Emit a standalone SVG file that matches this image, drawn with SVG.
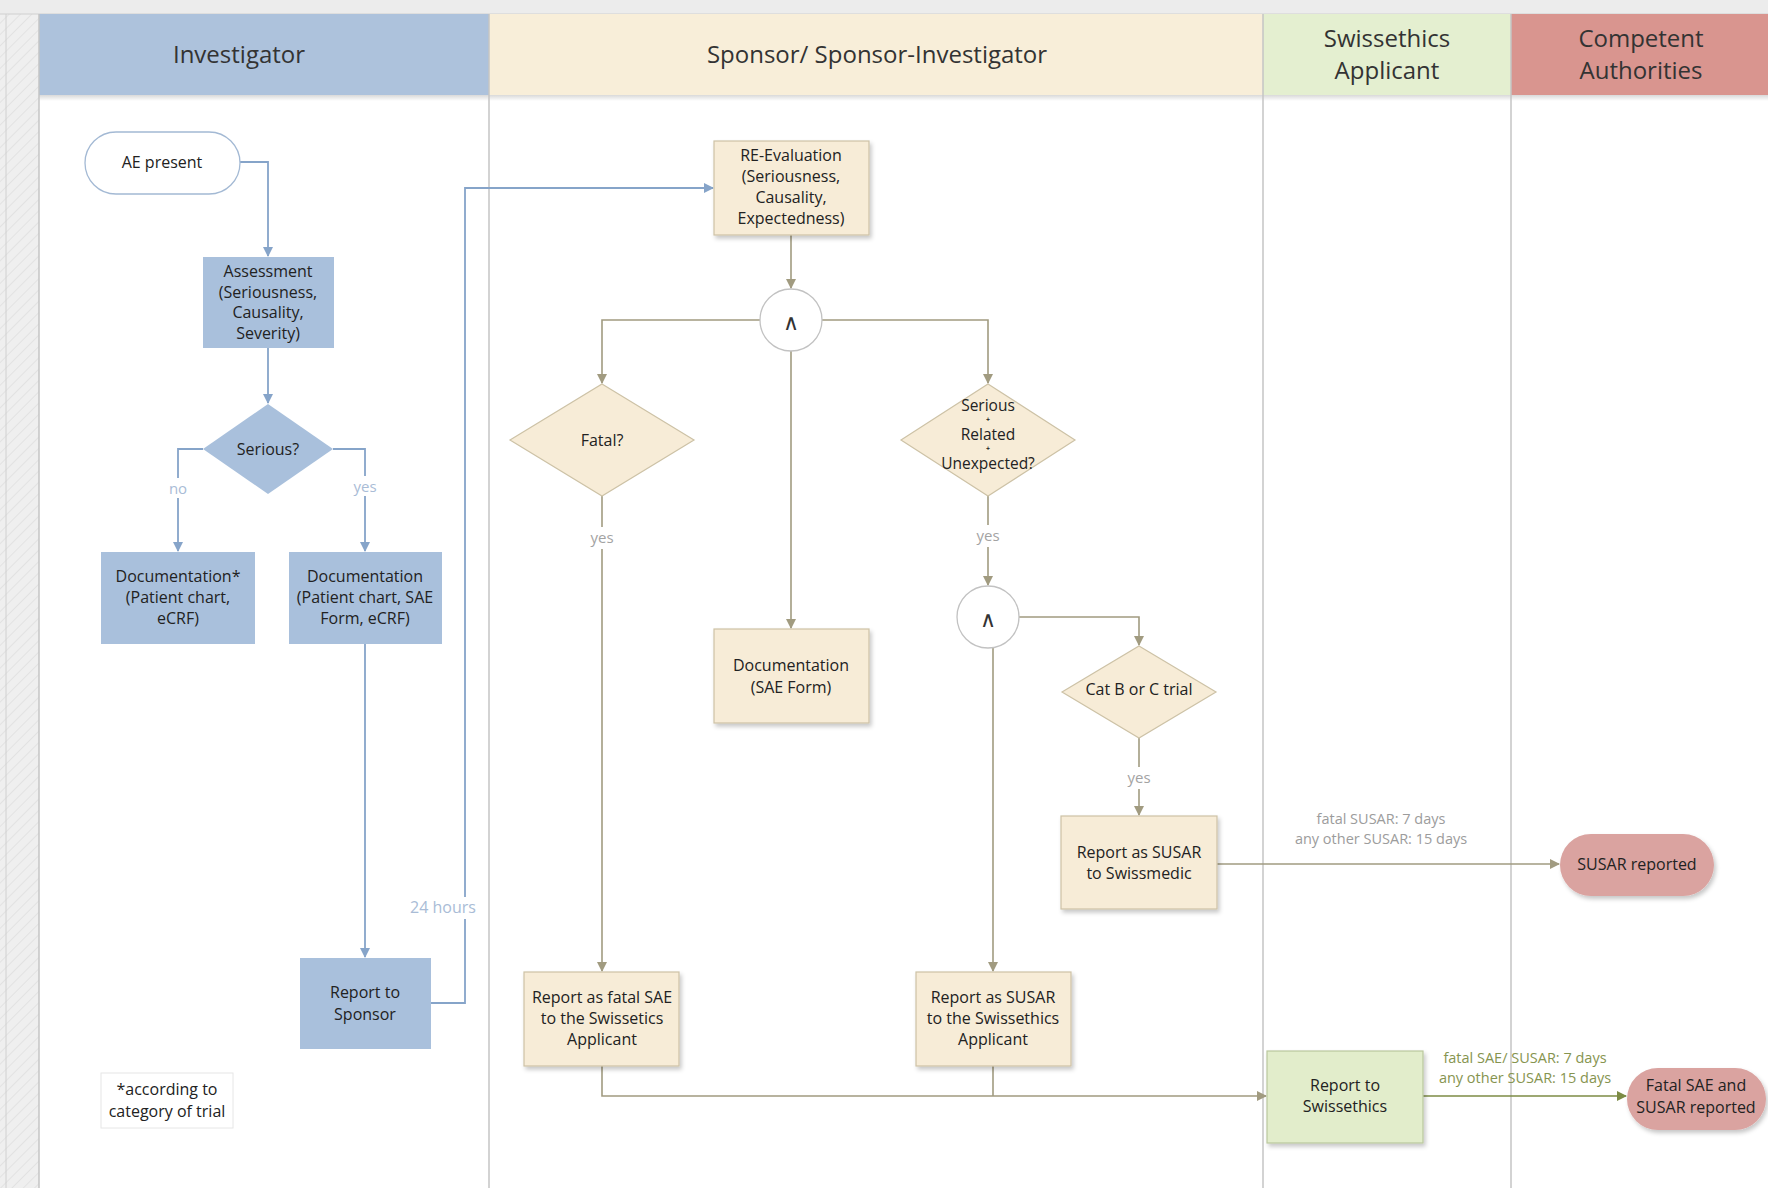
<svg xmlns="http://www.w3.org/2000/svg" width="1768" height="1188" viewBox="0 0 1768 1188">
<defs>
<style>
text{font-family:"Open Sans","Noto Sans","Liberation Sans",sans-serif;fill:#222;text-anchor:middle;dominant-baseline:central}
.hd{font-size:24px;fill:#333}
.t{font-size:16px}
.and{font-size:22px;fill:#333}
.lbl{font-size:15px;fill:#a3a3a3}
.lblb{font-size:15px;fill:#a9bcd6}
.tm{font-size:14.5px;fill:#9c9c9c}
.tmg{font-size:14.5px;fill:#86944f}
.blue{fill:#a9c0dc}
.cream{fill:#f7ecd7;stroke:#cdc2a6;stroke-width:1.2}
.green{fill:#e2edcb;stroke:#bac79d;stroke-width:1.2}
.pill{fill:#daa3a0}
.cb{fill:none;stroke:#86a4c9;stroke-width:1.8}
.co{fill:none;stroke:#a19b80;stroke-width:1.6}
.cg{fill:none;stroke:#7c8b45;stroke-width:1.6}
.lane{stroke:#c4c4c4;stroke-width:1.5;fill:none}
.plus{font-size:7px;font-weight:bold;fill:#222}
</style>
<marker id="ab" markerWidth="10" markerHeight="10" refX="9" refY="5" orient="auto" markerUnits="userSpaceOnUse"><path d="M0,0 L10,5 L0,10 z" fill="#86a4c9"/></marker>
<marker id="ao" markerWidth="10" markerHeight="10" refX="9" refY="5" orient="auto" markerUnits="userSpaceOnUse"><path d="M0,0 L10,5 L0,10 z" fill="#a19b80"/></marker>
<marker id="ag" markerWidth="10" markerHeight="10" refX="9" refY="5" orient="auto" markerUnits="userSpaceOnUse"><path d="M0,0 L10,5 L0,10 z" fill="#7c8b45"/></marker>
<filter id="sh" x="-20%" y="-20%" width="140%" height="150%"><feDropShadow dx="2" dy="3" stdDeviation="2" flood-color="#000" flood-opacity="0.22"/></filter>
<linearGradient id="hs" x1="0" y1="0" x2="0" y2="1"><stop offset="0" stop-color="#000" stop-opacity="0.15"/><stop offset="1" stop-color="#000" stop-opacity="0"/></linearGradient>
<pattern id="hatch" width="8" height="8" patternUnits="userSpaceOnUse" patternTransform="rotate(45)"><rect width="8" height="8" fill="#efefef"/><line x1="0" y1="0" x2="0" y2="8" stroke="#e2e2e2" stroke-width="2"/></pattern>
</defs>

<!-- background -->
<rect x="0" y="0" width="1768" height="1188" fill="#ffffff"/>
<rect x="0" y="0" width="1768" height="14" fill="#ececec"/>
<rect x="0" y="14" width="39" height="1174" fill="url(#hatch)"/>
<line x1="6" y1="14" x2="6" y2="1188" stroke="#d0d0d0" stroke-width="1"/>
<line x1="0" y1="14" x2="1768" y2="14" stroke="#d0d0d0" stroke-width="1"/>

<!-- lane headers -->
<g id="lanes">
<rect x="39" y="14" width="450" height="81" fill="#adc2dc"/>
<rect x="489" y="14" width="774" height="81" fill="#f8eed9"/>
<rect x="1263" y="14" width="248" height="81" fill="#e4efd0"/>
<rect x="1511" y="14" width="257" height="81" fill="#d9958f"/>
<rect x="39" y="95" width="1729" height="6" fill="url(#hs)"/>
<line class="lane" x1="39" y1="14" x2="39" y2="1188"/>
<line class="lane" x1="489" y1="14" x2="489" y2="1188"/>
<line class="lane" x1="1263" y1="14" x2="1263" y2="1188"/>
<line class="lane" x1="1511" y1="14" x2="1511" y2="1188"/>
<text class="hd" x="239" y="53">Investigator</text>
<text class="hd" x="877" y="53">Sponsor/ Sponsor-Investigator</text>
<text class="hd" x="1387" y="37">Swissethics</text>
<text class="hd" x="1387" y="69">Applicant</text>
<text class="hd" x="1641" y="37">Competent</text>
<text class="hd" x="1641" y="69">Authorities</text>
</g>

<!-- connectors -->
<g id="connectors">
<path class="cb" d="M240,162 H268 V256" marker-end="url(#ab)"/>
<path class="cb" d="M268,348 V403" marker-end="url(#ab)"/>
<path class="cb" d="M203,449 H178 V551" marker-end="url(#ab)"/>
<path class="cb" d="M333,449 H365 V551" marker-end="url(#ab)"/>
<path class="cb" d="M365,644 V957" marker-end="url(#ab)"/>
<path class="cb" d="M431,1003 H465 V188 H713" marker-end="url(#ab)"/>
<rect x="176" y="478" width="24" height="20" fill="#fff"/>
<text class="lblb" x="178" y="488">no</text>
<rect x="351" y="476" width="28" height="20" fill="#fff"/>
<text class="lblb" x="365" y="486">yes</text>
<rect x="409" y="897" width="70" height="22" fill="#fff"/>
<text class="lblb" x="443" y="907" style="font-size:16px">24 hours</text>

<path class="co" d="M791,235 V288" marker-end="url(#ao)"/>
<path class="co" d="M760,320 H602 V383" marker-end="url(#ao)"/>
<path class="co" d="M822,320 H988 V383" marker-end="url(#ao)"/>
<path class="co" d="M791,351 V628" marker-end="url(#ao)"/>
<path class="co" d="M602,496 V971" marker-end="url(#ao)"/>
<path class="co" d="M988,496 V585" marker-end="url(#ao)"/>
<path class="co" d="M1019,617 H1139 V645" marker-end="url(#ao)"/>
<path class="co" d="M993,648 V971" marker-end="url(#ao)"/>
<path class="co" d="M1139,738 V815" marker-end="url(#ao)"/>
<path class="co" d="M1217,864 H1559" marker-end="url(#ao)"/>
<path class="co" d="M602,1066 V1096 H1266" marker-end="url(#ao)"/>
<path class="co" d="M993,1066 V1096"/>
<path class="cg" d="M1423,1096 H1626" marker-end="url(#ag)"/>
<rect x="587" y="527" width="30" height="22" fill="#fff"/>
<text class="lbl" x="602" y="537">yes</text>
<rect x="973" y="525" width="30" height="22" fill="#fff"/>
<text class="lbl" x="988" y="535">yes</text>
<rect x="1124" y="767" width="30" height="22" fill="#fff"/>
<text class="lbl" x="1139" y="777">yes</text>
<text class="tm" x="1381" y="818">fatal SUSAR: 7 days</text>
<text class="tm" x="1381" y="838">any other SUSAR: 15 days</text>
<text class="tmg" x="1525" y="1057">fatal SAE/ SUSAR: 7 days</text>
<text class="tmg" x="1525" y="1077">any other SUSAR: 15 days</text>
</g>

<!-- Investigator nodes -->
<g id="ae-present">
<rect x="85" y="132" width="155" height="62" rx="31" fill="#fff" stroke="#a3b9d4" stroke-width="1.3"/>
<text class="t" x="162" y="162">AE present</text>
</g>
<g id="assessment">
<rect class="blue" x="203" y="257" width="131" height="91"/>
<text class="t" x="268" y="271">Assessment</text>
<text class="t" x="268" y="292">(Seriousness,</text>
<text class="t" x="268" y="312">Causality,</text>
<text class="t" x="268" y="333">Severity)</text>
</g>
<g id="serious">
<polygon class="blue" points="268,404 333,449 268,494 203,449"/>
<text class="t" x="268" y="449">Serious?</text>
</g>
<g id="doc-nonserious">
<rect class="blue" x="101" y="552" width="154" height="92"/>
<text class="t" x="178" y="576">Documentation*</text>
<text class="t" x="178" y="597">(Patient chart,</text>
<text class="t" x="178" y="618">eCRF)</text>
</g>
<g id="doc-serious">
<rect class="blue" x="289" y="552" width="153" height="92"/>
<text class="t" x="365" y="576">Documentation</text>
<text class="t" x="365" y="597">(Patient chart, SAE</text>
<text class="t" x="365" y="618">Form, eCRF)</text>
</g>
<g id="report-sponsor">
<rect class="blue" x="300" y="958" width="131" height="91"/>
<text class="t" x="365" y="992">Report to</text>
<text class="t" x="365" y="1014">Sponsor</text>
</g>
<g id="footnote">
<rect x="101" y="1073" width="132" height="55" fill="#fff" stroke="#e6e6e6" stroke-width="1"/>
<text class="t" x="167" y="1089">*according to</text>
<text class="t" x="167" y="1111">category of trial</text>
</g>

<!-- Sponsor nodes -->
<g id="re-evaluation">
<rect class="cream" x="714" y="141" width="155" height="94" filter="url(#sh)"/>
<text class="t" x="791" y="155">RE-Evaluation</text>
<text class="t" x="791" y="176">(Seriousness,</text>
<text class="t" x="791" y="197">Causality,</text>
<text class="t" x="791" y="218">Expectedness)</text>
</g>
<g id="and1">
<circle cx="791" cy="320" r="31" fill="#fff" stroke="#c2c2c2" stroke-width="1.3"/>
<text class="and" x="791" y="321">∧</text>
</g>
<g id="fatal">
<polygon class="cream" points="602,384 694,440 602,496 510,440"/>
<text class="t" x="602" y="440">Fatal?</text>
</g>
<g id="serious-related-unexpected">
<polygon class="cream" points="988,384 1075,440 988,496 901,440"/>
<text x="988" y="405" style="font-size:15.5px">Serious</text>
<text class="plus" x="988" y="419.5">+</text>
<text x="988" y="434" style="font-size:15.5px">Related</text>
<text class="plus" x="988" y="448.5">+</text>
<text x="988" y="463" style="font-size:15.5px">Unexpected?</text>
</g>
<g id="doc-sae-form">
<rect class="cream" x="714" y="629" width="155" height="94" filter="url(#sh)"/>
<text class="t" x="791" y="665">Documentation</text>
<text class="t" x="791" y="687">(SAE Form)</text>
</g>
<g id="and2">
<circle cx="988" cy="617" r="31" fill="#fff" stroke="#c2c2c2" stroke-width="1.3"/>
<text class="and" x="988" y="618">∧</text>
</g>
<g id="cat-b-c">
<polygon class="cream" points="1139,646 1216,692 1139,738 1062,692"/>
<text class="t" x="1139" y="689">Cat B or C trial</text>
</g>
<g id="report-susar-swissmedic">
<rect class="cream" x="1061" y="816" width="156" height="93" filter="url(#sh)"/>
<text class="t" x="1139" y="852">Report as SUSAR</text>
<text class="t" x="1139" y="873">to Swissmedic</text>
</g>
<g id="report-fatal-sae">
<rect class="cream" x="524" y="972" width="155" height="94" filter="url(#sh)"/>
<text class="t" x="602" y="997">Report as fatal SAE</text>
<text class="t" x="602" y="1018">to the Swissetics</text>
<text class="t" x="602" y="1039">Applicant</text>
</g>
<g id="report-susar-swissethics">
<rect class="cream" x="916" y="972" width="155" height="94" filter="url(#sh)"/>
<text class="t" x="993" y="997">Report as SUSAR</text>
<text class="t" x="993" y="1018">to the Swissethics</text>
<text class="t" x="993" y="1039">Applicant</text>
</g>

<!-- Swissethics / Authorities nodes -->
<g id="report-swissethics">
<rect class="green" x="1267" y="1051" width="156" height="92" filter="url(#sh)"/>
<text class="t" x="1345" y="1085">Report to</text>
<text class="t" x="1345" y="1106">Swissethics</text>
</g>
<g id="susar-reported">
<rect class="pill" x="1560" y="834" width="154" height="62" rx="31" filter="url(#sh)"/>
<text class="t" x="1637" y="864">SUSAR reported</text>
</g>
<g id="fatal-sae-susar-reported">
<rect class="pill" x="1627" y="1068" width="139" height="62" rx="31" filter="url(#sh)"/>
<text class="t" x="1696" y="1085">Fatal SAE and</text>
<text class="t" x="1696" y="1107">SUSAR reported</text>
</g>
</svg>
